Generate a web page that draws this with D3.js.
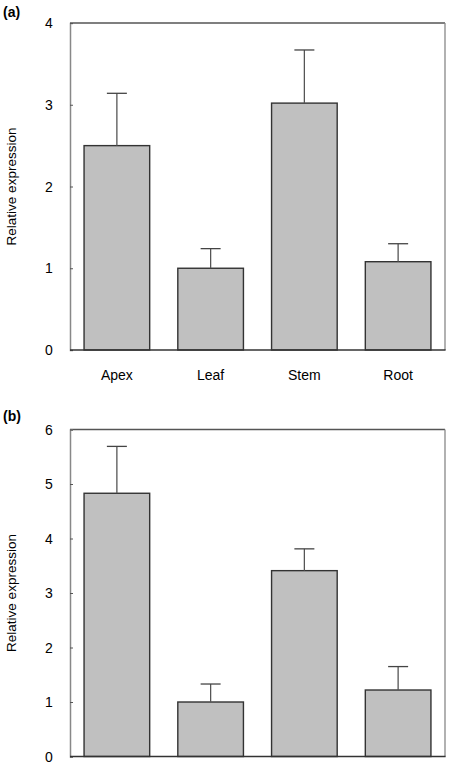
<!DOCTYPE html>
<html><head><meta charset="utf-8">
<script src="https://cdn.jsdelivr.net/npm/d3@7"></script>
<style>body{margin:0;background:#fff}svg{display:block}text{font-family:Arial,"Liberation Sans",sans-serif}</style>
</head><body>
<svg id="c" width="449" height="772"></svg>
<script>
const categories = ["Apex", "Leaf", "Stem", "Root"];
const valuesA = [2.50, 1.00, 3.02, 1.08];
const errorsA = [0.64, 0.24, 0.65, 0.22];
const valuesB = [4.83, 1.00, 3.41, 1.22];
const errorsB = [0.86, 0.33, 0.40, 0.43];
const ticksA = [0, 1, 2, 3, 4];
const ticksB = [0, 1, 2, 3, 4, 5, 6];

const svg = d3.select("#c");

function panel(opts) {
  const {top, bottom, left, right, values, errors, ticks, ymax, label, labelY, showX} = opts;
  const g = svg.append("g");
  const x = d3.scaleBand().domain(categories).range([left, right]).paddingInner(0.3).paddingOuter(0.15);
  const y = d3.scaleLinear().domain([0, ymax]).range([bottom, top]);

  // frame
  g.append("line").attr("x1", left).attr("x2", right).attr("y1", top).attr("y2", top).attr("stroke", "#555").attr("stroke-width", 1.3);
  g.append("line").attr("x1", right).attr("x2", right).attr("y1", top).attr("y2", bottom).attr("stroke", "#888").attr("stroke-width", 1.3);

  // bars
  g.selectAll("rect.bar").data(values).join("rect")
    .attr("x", (d, i) => x(categories[i]))
    .attr("y", d => y(d))
    .attr("width", x.bandwidth())
    .attr("height", d => y(0) - y(d))
    .attr("fill", "#c0c0c0").attr("stroke", "#333").attr("stroke-width", 1.4);

  // error bars
  const capW = 20;
  values.forEach((v, i) => {
    const cx = x(categories[i]) + x.bandwidth() / 2;
    g.append("line").attr("x1", cx).attr("x2", cx).attr("y1", y(v)).attr("y2", y(v + errors[i])).attr("stroke", "#555").attr("stroke-width", 1.3);
    g.append("line").attr("x1", cx - capW / 2).attr("x2", cx + capW / 2).attr("y1", y(v + errors[i])).attr("y2", y(v + errors[i])).attr("stroke", "#444").attr("stroke-width", 1.3);
  });

  // y axis
  const ya = d3.axisRight(y).tickValues(ticks).tickSize(3).tickFormat("");
  const ag = g.append("g").attr("transform", `translate(${left},0)`).call(ya);
  ag.select(".domain").attr("stroke", "#888").attr("stroke-width", 1.5);
  ag.selectAll(".tick line").attr("stroke", "#555");
  g.selectAll("text.yt").data(ticks).join("text")
    .attr("x", 49).attr("y", d => y(d)).attr("dy", "0.36em")
    .attr("text-anchor", "middle").attr("font-size", 14).attr("fill", "#000").text(d => d);

  // bottom axis line
  g.append("line").attr("x1", left).attr("x2", right + 0.6).attr("y1", bottom).attr("y2", bottom).attr("stroke", "#333").attr("stroke-width", 1.4);

  if (showX) {
    g.selectAll("text.xt").data(categories).join("text")
      .attr("x", d => x(d) + x.bandwidth() / 2).attr("y", bottom + 30)
      .attr("text-anchor", "middle").attr("font-size", 14).attr("fill", "#000").text(d => d);
  }

  g.append("text").attr("transform", `translate(16,${(top + bottom) / 2}) rotate(-90)`)
    .attr("text-anchor", "middle").attr("font-size", 13.5).attr("fill", "#000").text("Relative expression");

  g.append("text").attr("x", 3).attr("y", labelY).attr("font-size", 14).attr("font-weight", "bold").attr("fill", "#000").text(label);
}

panel({top: 23, bottom: 350, left: 70, right: 445, values: valuesA, errors: errorsA, ticks: ticksA, ymax: 4, label: "(a)", labelY: 17, showX: true});
panel({top: 429.5, bottom: 756.5, left: 70, right: 445, values: valuesB, errors: errorsB, ticks: ticksB, ymax: 6, label: "(b)", labelY: 421, showX: false});
</script>
</body></html>
